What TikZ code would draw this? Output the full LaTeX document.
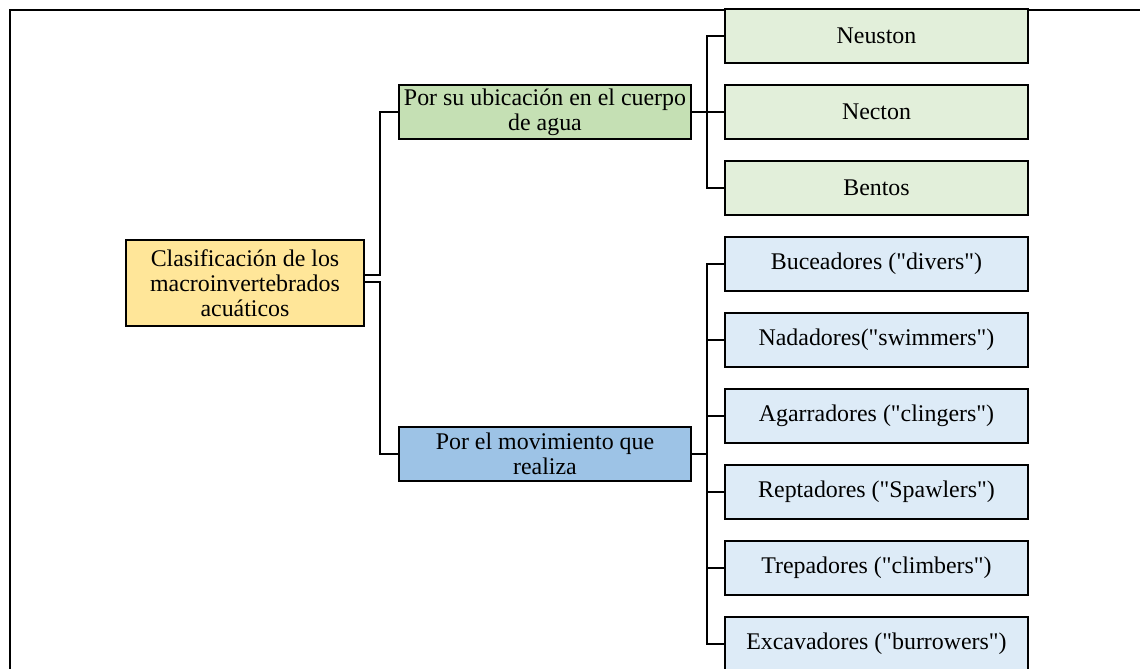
\documentclass[tikz,border=0pt]{standalone}
\usepackage{fontspec}
\setmainfont{Liberation Serif}
\usepackage{xcolor}
\usetikzlibrary{positioning}

\definecolor{rootfill}{HTML}{FFE699}
\definecolor{ubicfill}{HTML}{C5E0B4}
\definecolor{movfill}{HTML}{9DC3E6}
\definecolor{greenleaf}{HTML}{E2EFDA}
\definecolor{blueleaf}{HTML}{DDEBF7}

\tikzset{
  box/.style={draw=black, line width=1.4pt, rectangle, align=center,
    inner sep=0pt, outer sep=0pt, font=\fontsize{13.6}{14.2}\selectfont},
  rootbox/.style={box, fill=rootfill, minimum width=4.76cm, minimum height=1.72cm},
  midbox/.style={box, minimum width=5.84cm, minimum height=1.08cm},
  leafbox/.style={box, minimum width=6.06cm, minimum height=1.08cm},
  link/.style={draw=black, line width=1.3pt}
}

\begin{document}
\begin{tikzpicture}
  % page size and thin frame
  \clip (0,0) rectangle (22.8,-13.36);
  \draw[line width=0.6pt] (0.2,-13.5) |- (23,-0.2);

  % root and the two criteria
  \node[rootbox] (root) at (4.9,-5.66) {Clasificación de los\\macroinvertebrados\\acuáticos};
  \node[midbox, fill=ubicfill] (ubic) at (10.9,-2.24) {Por su ubicación en el cuerpo\\de agua};
  \node[midbox, fill=movfill] (mov) at (10.9,-9.08) {Por el movimiento que\\realiza};

  % leaves by location
  \node[leafbox, fill=greenleaf] (neuston) at (17.53,-0.72) {Neuston};
  \node[leafbox, fill=greenleaf, below=0.44cm of neuston] (necton) {Necton};
  \node[leafbox, fill=greenleaf, below=0.44cm of necton] (bentos) {Bentos};

  % leaves by movement
  \node[leafbox, fill=blueleaf] (buceadores) at (17.53,-5.28) {Buceadores (\textquotedbl divers\textquotedbl)};
  \node[leafbox, fill=blueleaf, below=0.44cm of buceadores] (nadadores) {Nadadores(\textquotedbl swimmers\textquotedbl)};
  \node[leafbox, fill=blueleaf, below=0.44cm of nadadores] (agarradores) {Agarradores (\textquotedbl clingers\textquotedbl)};
  \node[leafbox, fill=blueleaf, below=0.44cm of agarradores] (reptadores) {Reptadores (\textquotedbl Spawlers\textquotedbl)};
  \node[leafbox, fill=blueleaf, below=0.44cm of reptadores] (trepadores) {Trepadores (\textquotedbl climbers\textquotedbl)};
  \node[leafbox, fill=blueleaf, below=0.44cm of trepadores] (excavadores) {Excavadores (\textquotedbl burrowers\textquotedbl)};

  % elbow connectors
  \draw[link] ([yshift=0.16cm]root.east) -- ++(0.32,0) |- (ubic.west);
  \draw[link] ([yshift=0.02cm]root.east) -- ++(0.32,0) |- (mov.west);
  \foreach \leaf in {neuston, necton, bentos}
    \draw[link] (ubic.east) -- ++(0.32,0) |- (\leaf.west);
  \foreach \leaf in {buceadores, nadadores, agarradores, reptadores, trepadores, excavadores}
    \draw[link] (mov.east) -- ++(0.32,0) |- (\leaf.west);
\end{tikzpicture}
\end{document}
